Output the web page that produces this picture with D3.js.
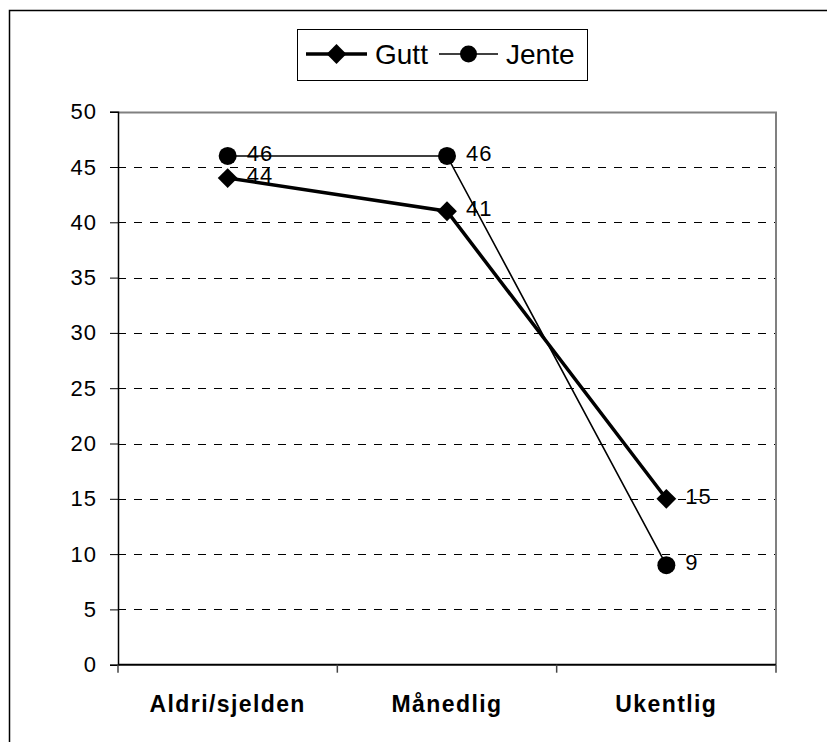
<!DOCTYPE html>
<html>
<head>
<meta charset="utf-8">
<script src="https://cdn.jsdelivr.net/npm/d3@7"></script>
<style>
    body { margin: 0; background: #fff; }
    svg { display: block; font-family: "Liberation Sans", Arial, sans-serif; }
</style>
</head>
<body>
<div id="chart"></div>
<script>
const categories = ['Aldri/sjelden', 'Månedlig', 'Ukentlig']
const gutt = [44, 41, 15]
const jente = [46, 46, 9]
const yTicks = [0, 5, 10, 15, 20, 25, 30, 35, 40, 45, 50]

const w = 827
const h = 742
const plot = {left: 118, right: 776, top: 111.7, bottom: 664.7}

const svg = d3.select('#chart')
    .append('svg')
    .attr('width', w)
    .attr('height', h)

// outer chart border (right and bottom fall outside the picture)
svg.append('rect')
    .attr('x', 9.5)
    .attr('y', 10.5)
    .attr('width', 900)
    .attr('height', 900)
    .attr('fill', 'none')
    .attr('stroke', '#000')
    .attr('stroke-width', 1.5)

const x = d3.scaleBand()
    .domain(categories)
    .range([plot.left, plot.right])

const y = d3.scaleLinear()
    .domain([0, 50])
    .range([plot.bottom, plot.top])

// gridlines
svg.append('g')
    .selectAll('line')
    .data(yTicks.filter(d => d > 0 && d < 50))
    .enter()
    .append('line')
    .attr('x1', plot.left)
    .attr('x2', plot.right)
    .attr('y1', d => Math.round(y(d)) + 0.5)
    .attr('y2', d => Math.round(y(d)) + 0.5)
    .attr('stroke', '#000')
    .attr('stroke-width', 1)
    .attr('stroke-dasharray', '8,8')

// plot area border top/right
svg.append('path')
    .attr('d', `M${plot.left},${Math.round(plot.top) + 0.5}H${plot.right}V${plot.bottom}`)
    .attr('fill', 'none')
    .attr('stroke', '#808080')
    .attr('stroke-width', 2)

// y axis
const yAxis = svg.append('g')
    .attr('transform', `translate(${plot.left},0)`)
    .call(d3.axisLeft(y).tickValues(yTicks).tickSize(8).tickPadding(13))
yAxis.select('.domain').attr('stroke', '#000').attr('stroke-width', 1.5)
yAxis.selectAll('.tick line').attr('stroke', '#000')
yAxis.selectAll('.tick text')
    .attr('font-size', 22)
    .attr('letter-spacing', 1)
    .attr('font-family', '"Liberation Sans", Arial, sans-serif')
    .attr('fill', '#000')

// x axis
const xAxis = svg.append('g')
    .attr('transform', `translate(0,${plot.bottom})`)
    .call(d3.axisBottom(x).tickSize(0).tickPadding(0))
xAxis.select('.domain').attr('stroke', '#000').attr('stroke-width', 2).attr('d', `M${plot.left},0H${plot.right}`)
xAxis.selectAll('.tick text')
    .attr('dy', null)
    .attr('y', 47)
    .attr('font-size', 23)
    .attr('font-weight', 'bold')
    .attr('letter-spacing', 1.4)
    .attr('font-family', '"Liberation Sans", Arial, sans-serif')
    .attr('fill', '#000')

// boundary ticks between categories
svg.append('g')
    .selectAll('line')
    .data(categories.map(c => x(c)).concat([x(categories[categories.length - 1]) + x.bandwidth()]))
    .enter()
    .append('line')
    .attr('x1', d => d)
    .attr('x2', d => d)
    .attr('y1', plot.bottom)
    .attr('y2', plot.bottom + 8)
    .attr('stroke', '#444')
    .attr('stroke-width', 1.5)

const cx = c => x(c) + x.bandwidth() / 2

const line = d3.line()
    .x((d, i) => cx(categories[i]))
    .y(d => y(d))

const diamond = d3.symbol().type(d3.symbolDiamond2).size(250)

// Jente series
svg.append('path')
    .datum(jente)
    .attr('d', line)
    .attr('fill', 'none')
    .attr('stroke', '#000')
    .attr('stroke-width', 1.6)

// Gutt series
svg.append('path')
    .datum(gutt)
    .attr('d', line)
    .attr('fill', 'none')
    .attr('stroke', '#000')
    .attr('stroke-width', 3.5)

svg.append('g')
    .selectAll('circle')
    .data(jente)
    .enter()
    .append('circle')
    .attr('cx', (d, i) => cx(categories[i]))
    .attr('cy', d => y(d))
    .attr('r', 9)
    .attr('fill', '#000')

svg.append('g')
    .selectAll('path')
    .data(gutt)
    .enter()
    .append('path')
    .attr('d', diamond)
    .attr('transform', (d, i) => `translate(${cx(categories[i])},${y(d)})`)
    .attr('fill', '#000')

// data labels
const labels = svg.append('g')
    .attr('font-size', 22)
    .attr('letter-spacing', 1)
    .attr('fill', '#000')

labels.selectAll('.lab-j')
    .data(jente)
    .enter()
    .append('text')
    .attr('class', 'lab-j')
    .attr('x', (d, i) => cx(categories[i]) + 19)
    .attr('y', d => y(d) + 5)
    .text(d => d)

labels.selectAll('.lab-g')
    .data(gutt)
    .enter()
    .append('text')
    .attr('class', 'lab-g')
    .attr('x', (d, i) => cx(categories[i]) + 19)
    .attr('y', d => y(d) + 5)
    .text(d => d)

// legend
const legend = svg.append('g')
legend.append('rect')
    .attr('x', 297.5)
    .attr('y', 29.5)
    .attr('width', 290)
    .attr('height', 51)
    .attr('fill', '#fff')
    .attr('stroke', '#000')
    .attr('stroke-width', 1)

const ly = 54
const legendItems = [
    {name: 'Gutt', x1: 306, x2: 367, width: 3.5, text: 375},
    {name: 'Jente', x1: 439, x2: 498, width: 1.6, text: 506}
]
legendItems.forEach(item => {
    legend.append('line')
        .attr('x1', item.x1)
        .attr('x2', item.x2)
        .attr('y1', ly)
        .attr('y2', ly)
        .attr('stroke', '#000')
        .attr('stroke-width', item.width)
    const mid = (item.x1 + item.x2) / 2
    if (item.name === 'Gutt') {
        legend.append('path')
            .attr('d', diamond)
            .attr('transform', `translate(${mid},${ly})`)
            .attr('fill', '#000')
    } else {
        legend.append('circle')
            .attr('cx', mid)
            .attr('cy', ly)
            .attr('r', 8.5)
            .attr('fill', '#000')
    }
    legend.append('text')
        .attr('x', item.text)
        .attr('y', ly + 10)
        .attr('font-size', 28)
        .attr('fill', '#000')
        .text(item.name)
})
</script>
</body>
</html>
